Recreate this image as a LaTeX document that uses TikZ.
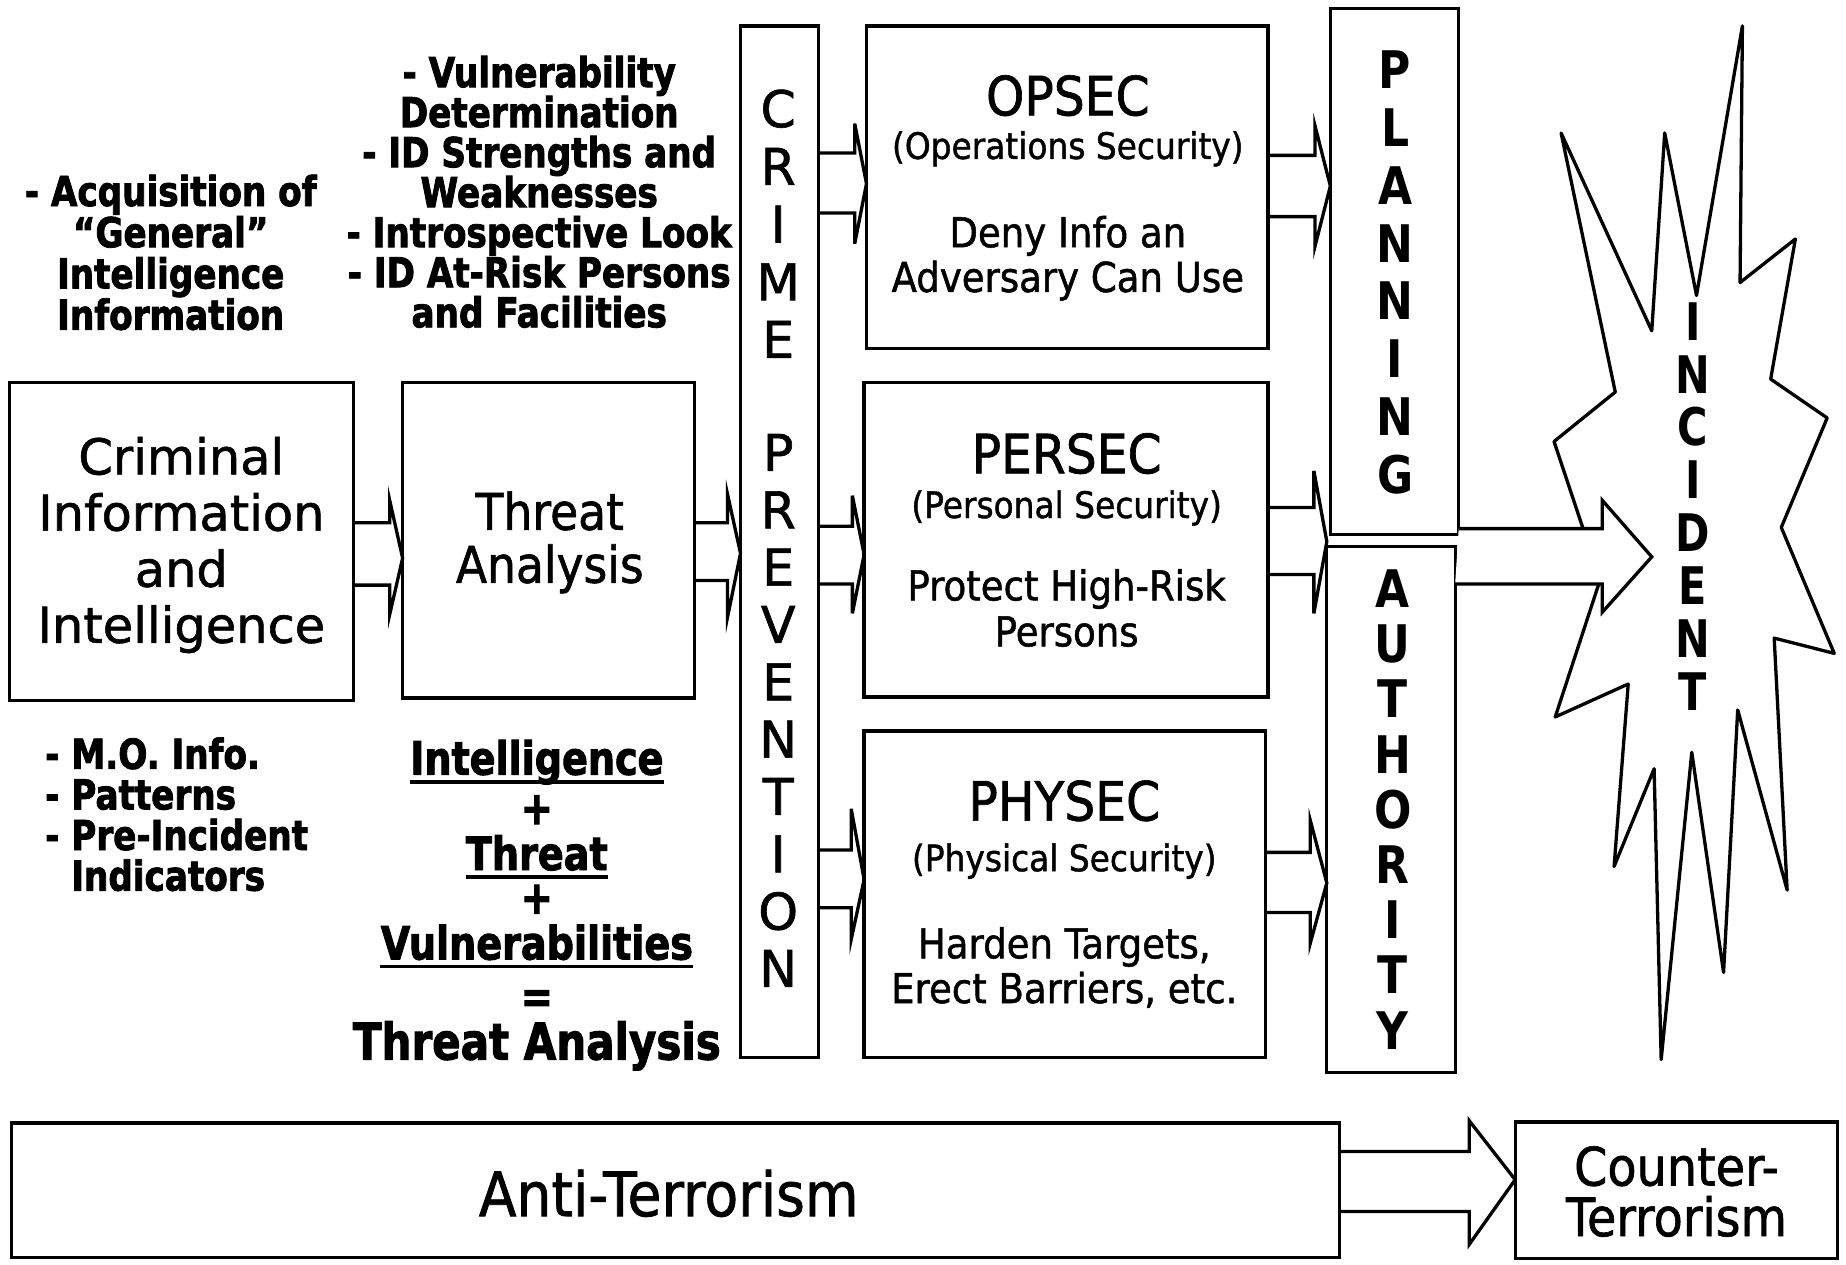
\documentclass[tikz,border=0pt]{standalone}
\usepackage{fontspec}
\setmainfont{DejaVu Sans}
\newfontfamily\rfont{DejaVu Sans}[FakeStretch=0.9,FakeBold=1.2]
\newfontfamily\bfont{DejaVu Sans}[FakeStretch=0.83,FakeBold=2]
\newfontfamily\lfont{DejaVu Sans}[FakeBold=1.2]
\newfontfamily\vfont{DejaVu Sans}[FakeStretch=0.85]
\newfontfamily\ifont{DejaVu Sans}[FakeStretch=0.8]
\usetikzlibrary{fit}
% block arrow: #1 src, #2 tgt, #3 y1, #4 y2, #5 head base x, #6 head top, #7 head bottom, #8 tip y
\newcommand\barrow[8]{%
  \draw[arr] (#1.east |- 0,#3) -- (#5,#3) -- (#5,#6) -- (#2.west |- 0,#8) -- (#5,#7) -- (#5,#4) -- (#1.east |- 0,#4);}
\begin{document}
\begin{tikzpicture}[x=0.5pt,y=-0.5pt,
  box/.style={draw, line width=1.4pt, inner sep=0pt, outer sep=0pt},
  arr/.style={line width=1.4pt, line join=miter},
  txt/.style={anchor=base, inner sep=0pt},
  crimtxt/.style={txt, font=\lfont\fontsize{21}{25}\selectfont},
  thrtxt/.style={txt, font=\rfont\fontsize{21.5}{25}\selectfont},
  ttl/.style={txt, font=\rfont\fontsize{23}{27}\selectfont},
  subt/.style={txt, font=\rfont\fontsize{15.5}{18}\selectfont},
  body/.style={txt, font=\rfont\fontsize{17.5}{20}\selectfont},
  bul/.style={txt, font=\bfont\bfseries\fontsize{17.5}{20}\selectfont},
  frm/.style={txt, font=\bfont\bfseries\fontsize{19.5}{22}\selectfont},
  vlet/.style={txt, font=\lfont\fontsize{21.5}{24}\selectfont},
  vletb/.style={txt, font=\vfont\bfseries\fontsize{22}{24}\selectfont},
  vleti/.style={txt, font=\ifont\bfseries\fontsize{22}{24}\selectfont},
  uline/.style={line width=1.6pt}]
\fill[white] (0,0) rectangle (1568,1074);
\useasboundingbox (0,0) rectangle (1568,1074);

% boxes
\node[box, fit={(8,325) (300,595)}] (crim) {};
\node[box, fit={(342,325) (590,593)}] (thr) {};
\node[box, fit={(629,22) (695,898)}] (crime) {};
\node[box, fit={(736,22) (1077,296)}] (opsec) {};
\node[box, fit={(734,325) (1077,592)}] (persec) {};
\node[box, fit={(734,621) (1075,898)}] (physec) {};
\node[box, fit={(1130,7) (1239,454)}] (plan) {};
\node[box, fit={(1127,464) (1236,911)}] (auth) {};
\node[box, fit={(10,954) (1138,1068)}] (anti) {};
\node[box, fit={(1287,953) (1561,1069)}] (counter) {};

% starburst
\draw[arr, line join=round] (1480,22) -- (1478,240) -- (1525,203) -- (1504,322) -- (1552,355) -- (1513,448)
  -- (1558,555) -- (1507,542) -- (1518,756) -- (1476,603) -- (1464,826) -- (1437,639) -- (1411,900)
  -- (1405,653) -- (1371,736) -- (1383,581) -- (1321,609) -- (1358,496) -- (1345,450) -- (1320,375)
  -- (1372,333) -- (1326,113) -- (1403,281) -- (1414,113) -- (1441,251) -- cycle;
\coordinate (tipB) at (1403,473);

% block arrows
\barrow{crim}{thr}{444}{497}{331}{425}{522}{474}
\barrow{thr}{crime}{444}{493}{618}{420}{524}{470}
\barrow{crime}{opsec}{130}{181}{726}{105}{207}{156}
\barrow{crime}{persec}{447}{496}{724}{421}{521}{471}
\barrow{crime}{physec}{722}{771}{723}{687}{798}{747}
\barrow{opsec}{plan}{132}{184}{1117}{107}{209}{158}
\barrow{persec}{auth}{431}{488}{1116}{400}{521}{460}
\barrow{physec}{auth}{724}{775}{1113}{697}{801}{750}
\barrow{anti}{counter}{978}{1029}{1248}{952}{1057}{1002}
\draw[arr, fill=white] (plan.east |- 0,449) -- (1361,449) -- (1361,425) -- (tipB) -- (1361,520) -- (1361,496) -- (auth.east |- 0,496);

% vertical letters
\foreach \c [count=\i from 0] in {C,R,I,M,E}
  \node[vlet] (cr\i) at (661,{108+49*\i}) {\c};
\foreach \c [count=\i from 0] in {P,R,E,V,E,N,T,I,O,N}
  \node[vlet] (pv\i) at (661,{400+48.7*\i}) {\c};
\foreach \c [count=\i from 0] in {P,L,A,N,N,I,N,G}
  \node[vletb] (pl\i) at (1185,{75+49.2*\i}) {\c};
\foreach \c [count=\i from 0] in {A,U,T,H,O,R,I,T,Y}
  \node[vletb] (au\i) at (1183,{516+46.9*\i}) {\c};
\foreach \c [count=\i from 0] in {I,N,C,I,D,E,N,T}
  \node[vleti] (in\i) at (1438,{289+44.9*\i}) {\c};

% box texts
\node[crimtxt] (c1) at (154,403) {Criminal};
\node[crimtxt] (c2) at (154,450.7) {Information};
\node[crimtxt] (c3) at (154,498.4) {and};
\node[crimtxt] (c4) at (154,546) {Intelligence};
\node[thrtxt] (t1) at (467,450) {Threat};
\node[thrtxt] (t2) at (467,495) {Analysis};

\node[ttl] (o1) at (907,98) {OPSEC};
\node[subt] (o2) at (907,135) {(Operations Security)};
\node[body] (o3) at (907,210) {Deny Info an};
\node[body] (o4) at (907,248) {Adversary Can Use};

\node[ttl] (p1) at (906,402) {PERSEC};
\node[subt] (p2) at (906,440) {(Personal Security)};
\node[body] (p3) at (906,510) {Protect High-Risk};
\node[body] (p4) at (906,549) {Persons};

\node[ttl] (h1) at (904,697) {PHYSEC};
\node[subt] (h2) at (904,740) {(Physical Security)};
\node[body] (h3) at (904,814) {Harden Targets,};
\node[body] (h4) at (904,852) {Erect Barriers, etc.};

\node[txt, font=\rfont\fontsize{26}{30}\selectfont] (a1) at (568,1033) {Anti-Terrorism};
\node[txt, font=\rfont\fontsize{22.5}{26}\selectfont] (k1) at (1424,1007) {Counter-};
\node[txt, font=\rfont\fontsize{22.5}{26}\selectfont] (k2) at (1424,1050) {Terrorism};

% bullet texts
\foreach \t [count=\i from 0] in {- Acquisition of,“General”,Intelligence,Information}
  \node[bul] (la\i) at (145,{175+35*\i}) {\t};
\foreach \t [count=\i from 0] in {- Vulnerability,Determination,- ID Strengths and,Weaknesses,- Introspective Look,- ID At-Risk Persons,and Facilities}
  \node[bul] (ra\i) at (458,{74+34*\i}) {\t};
\foreach \t [count=\i from 0] in {- M.O. Info.,- Patterns,- Pre-Incident,\phantom{- }Indicators}
  \node[bul, anchor=base west] (lb\i) at (38,{653+34.5*\i}) {\t};

% formula
\node[frm] (f1) at (456,658) {Intelligence};
\node[frm] (f2) at (456,700) {+};
\node[frm] (f3) at (456,739) {Threat};
\node[frm] (f4) at (456,776) {+};
\node[frm] (f5) at (456,815) {Vulnerabilities};
\node[frm] (f6) at (456,860) {=};
\node[frm, font=\bfont\bfseries\fontsize{21.5}{24}\selectfont] (f7) at (456,900) {Threat Analysis};
\foreach \n in {f1,f3,f5}
  \draw[uline] ([yshift=-3pt]\n.base west) -- ([yshift=-3pt]\n.base east);
\end{tikzpicture}
\end{document}
